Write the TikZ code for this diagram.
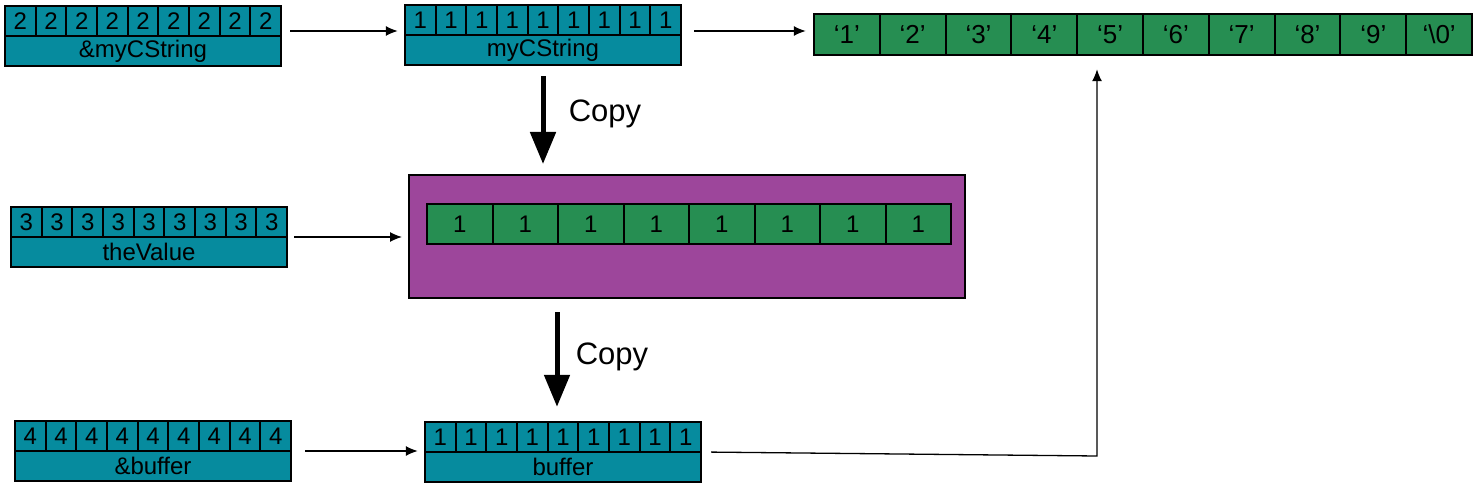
\documentclass[tikz,border=0pt]{standalone}
\usepackage{fontspec}
\setmainfont{Liberation Sans}
\usetikzlibrary{positioning,arrows.meta,fit}
\definecolor{cellteal}{RGB}{6,139,158}
\definecolor{cellgreen}{RGB}{38,142,82}
\definecolor{boxpurple}{RGB}{157,70,155}

\begin{document}
\begin{tikzpicture}[
  x=1pt, y=-1pt,
  font=\fontsize{24}{28}\selectfont,
  cell/.style={draw, line width=2pt, inner sep=0pt, anchor=north west},
  tcell/.style={cell, fill=cellteal, minimum width=30.67pt, minimum height=30pt},
  tlbl/.style={cell, fill=cellteal, minimum width=276pt, minimum height=30pt},
  gcell/.style={cell, fill=cellgreen, minimum width=65.5pt, minimum height=40pt},
  ccell/.style={cell, fill=cellgreen, minimum width=65.8pt, minimum height=41pt,
    font=\fontsize{26}{30}\selectfont},
  grp/.style={inner sep=0pt},
  arr/.style={-{Latex[length=12pt,width=10pt]}, line width=1.3pt},
  cp/.style={-{Triangle[length=32pt,width=25pt]}, line width=5pt},
  cplbl/.style={font=\fontsize{31}{36}\selectfont},
]
\useasboundingbox (0,0) rectangle (1474,486);

% top row: pointer, string pointer, characters
\foreach \i in {1,...,9}
  \node[tcell] (amy\i) at ({4+(\i-1)*30.67},5) {2};
\node[tlbl] (amylbl) at (4,35) {\&myCString};
\node[grp, fit=(amy1)(amylbl)] (amy) {};

\foreach \i in {1,...,9}
  \node[tcell] (bmy\i) at ({404+(\i-1)*30.67},4) {1};
\node[tlbl] (bmylbl) at (404,34) {myCString};
\node[grp, fit=(bmy1)(bmylbl)] (bmy) {};

\foreach \t [count=\i] in {1,2,3,4,5,6,7,8,9,\textbackslash0}
  \node[ccell] (chr\i) at ({813+(\i-1)*65.8},13) {‘\t’};
\node[grp, fit=(chr1)(chr10)] (chr) {};

% middle row: value and its memory
\foreach \i in {1,...,9}
  \node[tcell] (dval\i) at ({10+(\i-1)*30.67},206) {3};
\node[tlbl] (dvallbl) at (10,236) {theValue};
\node[grp, fit=(dval1)(dvallbl)] (dval) {};

\node[draw, line width=2pt, fill=boxpurple, anchor=north west,
  minimum width=556pt, minimum height=123pt] (mem) at (408,174) {};
\foreach \i in {1,...,8}
  \node[gcell] (mem\i) at ({426+(\i-1)*65.5},203) {1};

% bottom row: buffer pointer and buffer
\foreach \i in {1,...,9}
  \node[tcell] (ebuf\i) at ({14+(\i-1)*30.67},420) {4};
\node[tlbl] (ebuflbl) at (14,450) {\&buffer};
\node[grp, fit=(ebuf1)(ebuflbl)] (ebuf) {};

\foreach \i in {1,...,9}
  \node[tcell] (fbuf\i) at ({424+(\i-1)*30.67},421) {1};
\node[tlbl] (fbuflbl) at (424,451) {buffer};
\node[grp, fit=(fbuf1)(fbuflbl)] (fbuf) {};

% connectors
\draw[arr, shorten <=8pt, shorten >=6pt] ([yshift=5pt]amy.east) -- ([yshift=5pt]amy.east -| bmy.west);
\draw[arr, shorten <=12pt, shorten >=7pt] ([yshift=4pt]bmy.east) -- ([yshift=4pt]bmy.east -| chr.west);
\draw[arr, shorten <=6pt, shorten >=6pt] (dval.east) -- (dval.east -| mem.west);
\draw[arr, shorten <=13pt, shorten >=6pt] (ebuf.east) -- (ebuf.east -| fbuf.west);
\coordinate (turn) at (1097,456);
\draw[arr, shorten <=9pt, shorten >=13pt] (fbuf.east) -- (turn) -- (turn |- chr.south);

\draw[cp, shorten <=10pt, shorten >=10pt] (bmy.south) -- (bmy.south |- mem.north);
\node[cplbl] (cpya) at (605,114) {Copy};
\coordinate (cpx) at ([xshift=-6pt]fbuf.north);
\draw[cp, shorten <=13pt, shorten >=14pt] (cpx |- mem.south) -- (cpx);
\node[cplbl] (cpyb) at (612,357) {Copy};
\end{tikzpicture}
\end{document}
